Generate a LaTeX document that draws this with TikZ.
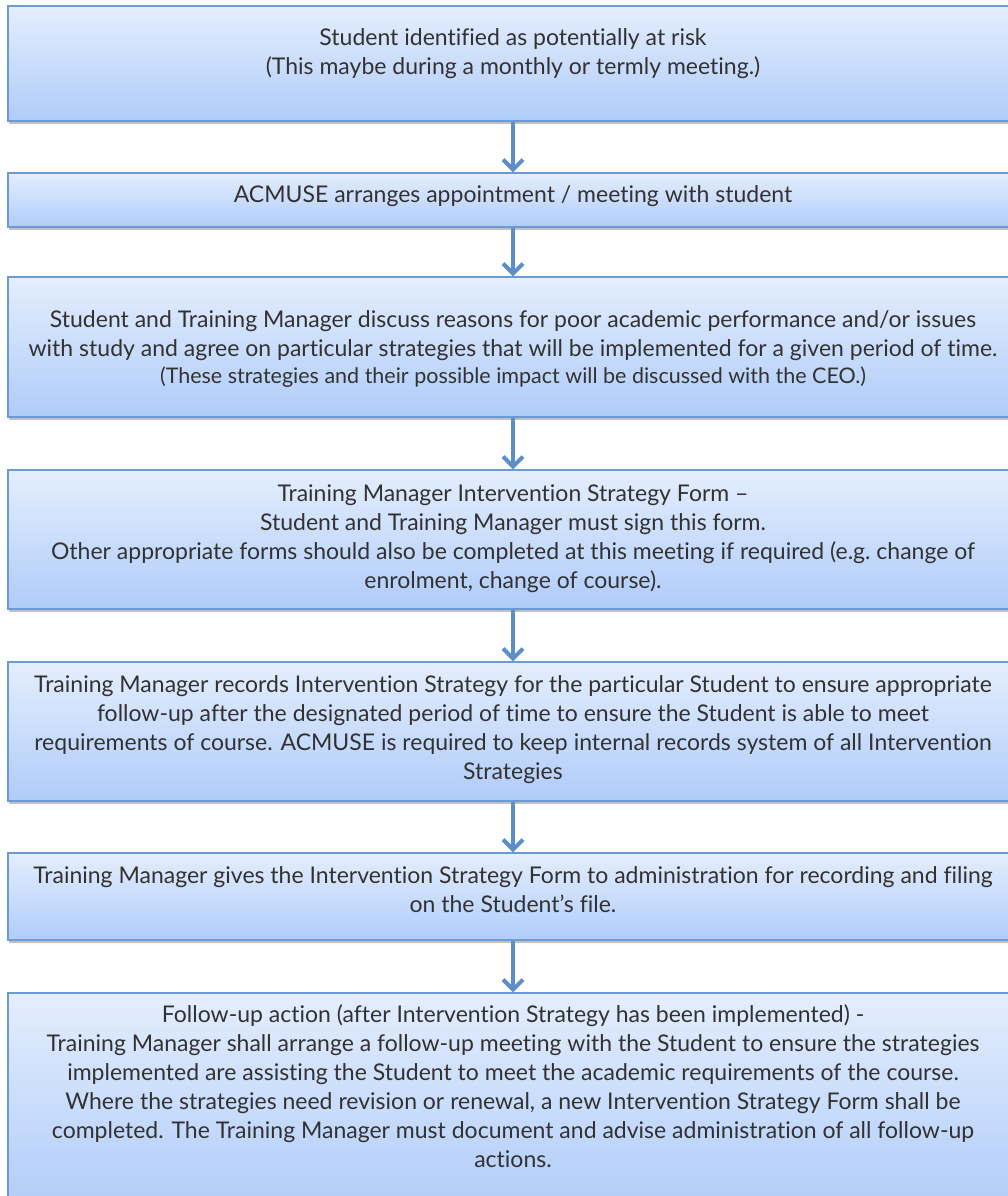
\documentclass[tikz,border=0pt]{standalone}
\usepackage{fontspec}
\setmainfont[RawFeature={-liga;-clig}]{Lato}
\usetikzlibrary{arrows.meta,shadows}
\definecolor{boxtop}{RGB}{228,238,253}
\definecolor{boxbot}{RGB}{176,204,249}
\definecolor{boxline}{RGB}{108,154,210}
\definecolor{arrowc}{RGB}{91,143,201}
\definecolor{txtc}{RGB}{50,50,50}
\tikzset{
  flowbox/.style={draw=boxline, line width=1.2pt, top color=boxtop, bottom color=boxbot,
    minimum width=1010pt, inner sep=0pt,
    drop shadow={shadow xshift=1pt, shadow yshift=-3pt, opacity=0.35, fill=black!70}},
  flowtext/.style={anchor=base, align=center, text=txtc, inner sep=0pt,
    font=\fontsize{23}{29}\selectfont},
  flowarrow/.style={draw=arrowc, line width=4pt, -{Straight Barb[length=10pt,width=20pt]}}
}
\begin{document}
\begin{tikzpicture}[x=1pt,y=-1pt]
\useasboundingbox (0,0) rectangle (1008,1196);
\clip (0,0) rectangle (1008,1196);
\fill[white] (0,0) rectangle (1008,1196);
\node[flowbox, minimum height=115pt] (b1) at (513,63.5) {};
\node[flowbox, minimum height=54pt]  (b2) at (513,200) {};
\node[flowbox, minimum height=140pt] (b3) at (513,347) {};
\node[flowbox, minimum height=139pt] (b4) at (513,539.5) {};
\node[flowbox, minimum height=139pt] (b5) at (513,731.5) {};
\node[flowbox, minimum height=87pt]  (b6) at (513,896.5) {};
\node[flowbox, minimum height=217pt] (b7) at (513,1101.5) {};
\draw[flowarrow] (b1.south) -- (b2.north);
\draw[flowarrow] (b2.south) -- (b3.north);
\draw[flowarrow] (b3.south) -- (b4.north);
\draw[flowarrow] (b4.south) -- (b5.north);
\draw[flowarrow] (b5.south) -- (b6.north);
\draw[flowarrow] (b6.south) -- (b7.north);
\node[flowtext] (t1) at (513,75) {Student identified as potentially at risk\\(This maybe during a monthly or termly meeting.)};
\node[flowtext] (t2) at (513,202) {ACMUSE arranges appointment / meeting with student};
\node[flowtext] (t3) at (513,383) {Student and Training Manager discuss reasons for poor academic performance and/or issues\\with study and agree on particular strategies that will be implemented for a given period of time.\\[-2pt]{\fontsize{21.5}{26}\selectfont (These strategies and their possible impact will be discussed with the CEO.)}};
\node[flowtext] (t4) at (513,588) {Training Manager Intervention Strategy Form –\\Student and Training Manager must sign this form.\\Other appropriate forms should also be completed at this meeting if required (e.g.\ change of\\enrolment, change of course).};
\node[flowtext] (t5) at (513,779) {Training Manager records Intervention Strategy for the particular Student to ensure appropriate\\follow-up after the designated period of time to ensure the Student is able to meet\\requirements of course. ACMUSE is required to keep internal records system of all Intervention\\Strategies};
\node[flowtext] (t6) at (513,912) {Training Manager gives the Intervention Strategy Form to administration for recording and filing\\on the Student’s file.};
\node[flowtext] (t7) at (513,1167) {Follow-up action (after Intervention Strategy has been implemented) -\\Training Manager shall arrange a follow-up meeting with the Student to ensure the strategies\\implemented are assisting the Student to meet the academic requirements of the course.\\Where the strategies need revision or renewal, a new Intervention Strategy Form shall be\\completed. The Training Manager must document and advise administration of all follow-up\\actions.};
\end{tikzpicture}
\end{document}
